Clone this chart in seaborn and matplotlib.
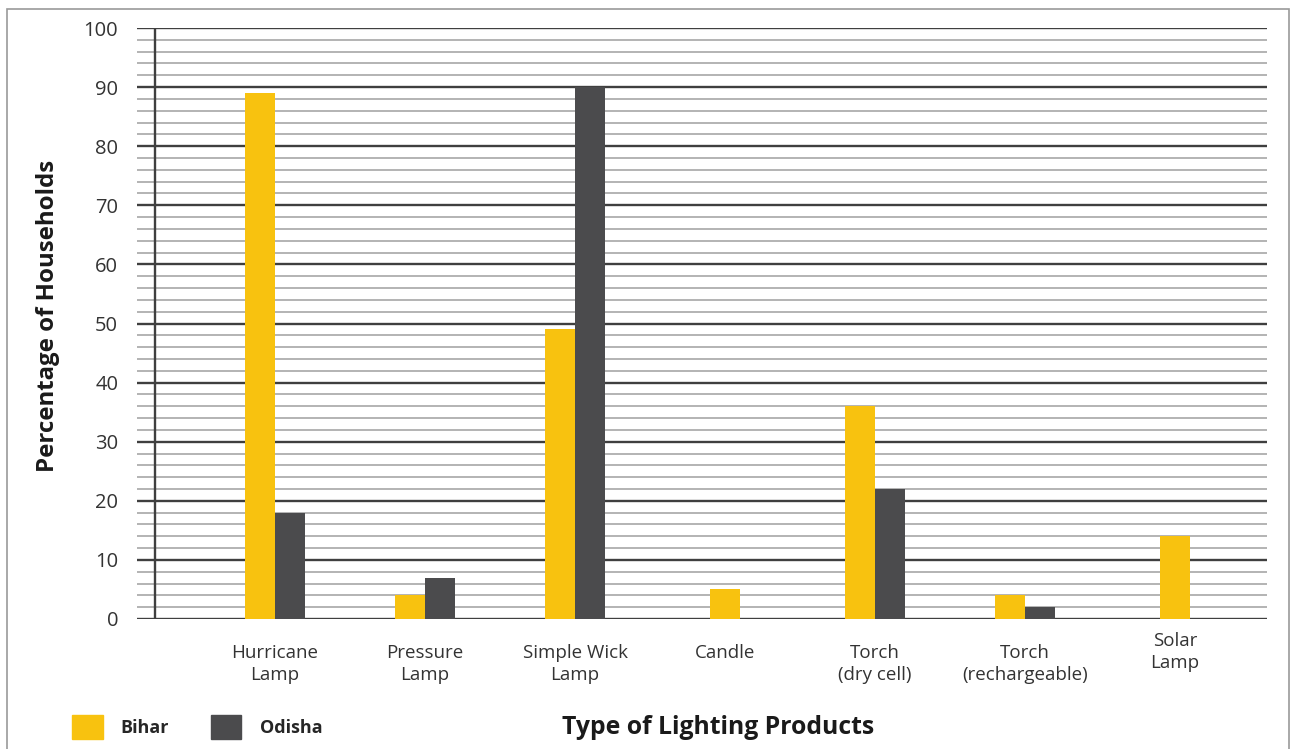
import matplotlib
matplotlib.use("Agg")
import matplotlib.pyplot as plt
import matplotlib.patches as mpatches
import matplotlib.transforms as mtrans
from matplotlib import font_manager
from matplotlib.ticker import MultipleLocator
import numpy as np
import pandas as pd
import seaborn as sns

# ---------------- data ----------------
categories = ["Hurricane\nLamp", "Pressure\nLamp", "Simple Wick\nLamp", "Candle",
              "Torch\n(dry cell)", "Torch\n(rechargeable)", "Solar\nLamp"]
bihar = [89, 4, 49, 5, 36, 4, 14]
odisha = [18, 7, 90, None, 22, 2, None]
series_names = ["Bihar", "Odisha"]
yticks = list(range(0, 101, 10))

# ---------------- style ----------------
YELLOW = "#F8C20F"
GREY = "#4B4B4D"
sns.set_theme(style="white")
names = {f.name for f in font_manager.fontManager.ttflist}
tick_font = "Liberation Sans Narrow" if "Liberation Sans Narrow" in names else "Open Sans"
plt.rcParams["font.family"] = ["Open Sans", "DejaVu Sans"]

W, H = 1291, 749
fig = plt.figure(figsize=(W / 100, H / 100), dpi=100)
ax = fig.add_axes([137 / W, 1 - 619 / H, (1267 - 137) / W, (619 - 28) / H])

rows = []
for c, b, o in zip(categories, bihar, odisha):
    rows.append((c, "Bihar", b))
    rows.append((c, "Odisha", o))
df = pd.DataFrame(rows, columns=["cat", "state", "val"]).dropna()
counts = df.groupby("cat")["val"].count()
pair = df[df["cat"].map(counts) == 2]
single = df[df["cat"].map(counts) == 1]

sns.barplot(data=pair, x="cat", y="val", hue="state", order=categories,
            hue_order=series_names, palette={"Bihar": YELLOW, "Odisha": GREY},
            width=0.4, saturation=1, legend=False, ax=ax, zorder=3)
sns.barplot(data=single, x="cat", y="val", order=categories, color=YELLOW,
            width=0.2, saturation=1, ax=ax, zorder=3)
for p in ax.patches:
    p.set_edgecolor("none")

ax.set_xlim(-0.92, 6.613)
ax.set_ylim(0, 100)
ax.set_yticks(yticks)
ax.yaxis.set_minor_locator(MultipleLocator(2))
ax.grid(which="minor", axis="y", color="#b3b3b3", lw=1.4, zorder=0)
ax.grid(which="major", axis="y", color="#3f3f3f", lw=1.7, zorder=1)
ax.set_axisbelow(True)
ax.axvline(-0.8, color="#3f3f3f", lw=1.7, zorder=2)
for s in ax.spines.values():
    s.set_visible(False)
ax.tick_params(axis="both", which="both", length=0)
ax.tick_params(axis="y", pad=13.5)
ax.tick_params(axis="x", pad=18)
ax.set_xlabel("")
ax.set_ylabel("Percentage of Households", fontsize=17.3, fontweight="bold",
              color="#1a1a1a", labelpad=17)
ax.yaxis.label.set_y(0.513)
for lab in ax.get_yticklabels():
    lab.set_fontfamily(tick_font)
    lab.set_fontsize(14.5)
    lab.set_color("#333333")
for lab in ax.get_xticklabels():
    lab.set_fontfamily(tick_font)
    lab.set_fontsize(13.5)
    lab.set_color("#333333")
    lab.set_linespacing(1.25)
    if lab.get_text().startswith("Solar"):
        lab.set_transform(lab.get_transform() +
                          mtrans.ScaledTranslation(0, 12 / 100, fig.dpi_scale_trans))

fig.text(718 / W, 1 - 728 / H, "Type of Lighting Products", fontsize=17.8,
         fontweight="bold", color="#1a1a1a", ha="center", va="center")

handles = [mpatches.Patch(color=YELLOW, label="Bihar"),
           mpatches.Patch(color=GREY, label="Odisha")]
fig.legend(handles=handles, loc="center left", bbox_to_anchor=(72 / W, 1 - 727 / H),
           ncol=2, frameon=False, prop={"weight": "bold", "size": 13},
           handlelength=1.7, handleheight=1.7, handletextpad=1.0,
           columnspacing=2.3, borderpad=0, borderaxespad=0)

fig.patches.append(mpatches.Rectangle((7 / W, -0.02), (1289 - 7) / W, 1.02 - 9 / H,
                                      transform=fig.transFigure, fill=False,
                                      edgecolor="#9a9a9a", lw=1.2))
fig.savefig("out.png", dpi=100)
